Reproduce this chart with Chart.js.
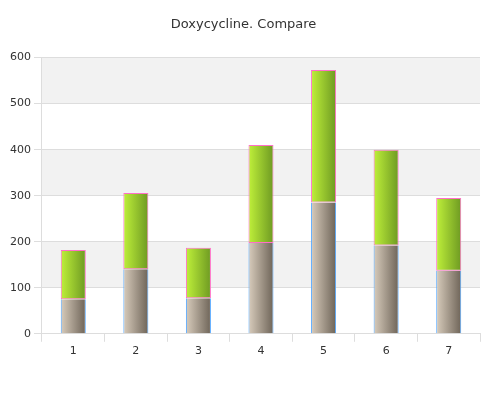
<!DOCTYPE html>
<html><head><script src="https://cdn.jsdelivr.net/npm/chart.js@4"></script>
<style>body{margin:0;background:#fff}#w{width:500px;height:400px}</style></head>
<body><div id="w"><canvas id="c"></canvas></div>
<script>
const categories=["1","2","3","4","5","6","7"];
const baseValues=[75,140,77,197,285,192,137];
const topValues=[107,166,110,213,288,208,158];
const gradStops=[["#d8ccbc","#6e6458"],["#bff03a","#6e9a22"]];
const bands={id:'bands',beforeDraw(ch){const {ctx,chartArea:a,scales:{y}}=ch;ctx.save();ctx.fillStyle='#f2f2f2';
for(let v=100;v<600;v+=200){const t=y.getPixelForValue(v+100),b=y.getPixelForValue(v);ctx.fillRect(a.left,t,a.right-a.left,b-t);}ctx.restore();}};
const grad={id:'grad',beforeDatasetsDraw(ch){const ctx=ch.ctx;ch.data.datasets.forEach((d,i)=>{ch.getDatasetMeta(i).data.forEach(el=>{const l=el.x-el.width/2;const g=ctx.createLinearGradient(l,0,l+el.width,0);g.addColorStop(0,gradStops[i][0]);g.addColorStop(1,gradStops[i][1]);el.options={...el.options,backgroundColor:g};});});}};
new Chart(document.getElementById('c'),{type:'bar',data:{labels:categories,datasets:[
{data:baseValues,borderColor:'#55a8ff',borderWidth:{left:1,right:1,top:0,bottom:0},borderSkipped:false,barPercentage:0.4,categoryPercentage:1},
{data:topValues,borderColor:'#ff6fc8',borderWidth:1,borderSkipped:false,barPercentage:0.4,categoryPercentage:1}]},
options:{animation:false,responsive:true,maintainAspectRatio:false,layout:{padding:{left:7,right:20,top:17,bottom:39}},
plugins:{legend:{display:false},title:{display:true,text:'Doxycycline. Compare',color:'#333',font:{family:'DejaVu Sans',size:13,weight:'normal'},padding:{top:0,bottom:25}},tooltip:{enabled:false}},
scales:{x:{stacked:true,grid:{color:'#ddd',drawOnChartArea:false,drawTicks:true},ticks:{color:'#333',font:{family:'DejaVu Sans',size:11}},border:{color:'#ddd'}},
y:{stacked:true,min:0,max:600,ticks:{stepSize:100,color:'#333',font:{family:'DejaVu Sans',size:11}},grid:{color:'#ddd'},border:{color:'#ddd'}}}},
plugins:[bands,grad]});
</script></body></html>
